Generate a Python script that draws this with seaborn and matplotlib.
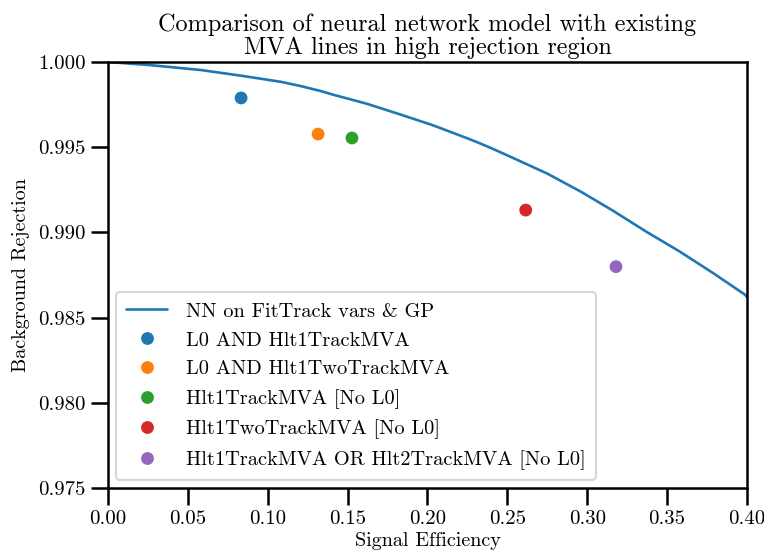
import matplotlib
matplotlib.use("Agg")
import matplotlib.pyplot as plt
import seaborn as sns
import pandas as pd

# ROC curve of the neural network (signal efficiency vs background rejection)
nn_eff = [0.000, 0.026, 0.058, 0.083, 0.108, 0.120, 0.133, 0.141, 0.162,
          0.183, 0.203, 0.225, 0.233, 0.241, 0.254, 0.275, 0.296, 0.316,
          0.337, 0.358, 0.379, 0.399, 0.400]
nn_rej = [1.00000, 0.99982, 0.99953, 0.99920, 0.99884, 0.99860, 0.99830,
          0.99808, 0.99755, 0.99692, 0.99630, 0.99552, 0.99522, 0.99490,
          0.99435, 0.99345, 0.99239, 0.99128, 0.99004, 0.98887, 0.98760,
          0.98633, 0.98620]

# Working points of the existing trigger lines
mva_names = ["L0 AND Hlt1TrackMVA",
             "L0 AND Hlt1TwoTrackMVA",
             "Hlt1TrackMVA [No L0]",
             "Hlt1TwoTrackMVA [No L0]",
             "Hlt1TrackMVA OR Hlt2TrackMVA [No L0]"]
mva_eff = [0.0833, 0.1315, 0.1527, 0.2615, 0.3180]
mva_rej = [0.99789, 0.99577, 0.99554, 0.99131, 0.98799]

nn_label = "NN on FitTrack vars & GP"
title = "Comparison of neural network model with existing\nMVA lines in high rejection region"

sns.set_theme(style="ticks", context="talk")
plt.rcParams["font.family"] = "serif"
plt.rcParams["font.serif"] = ["cmr10", "DejaVu Serif"]
plt.rcParams["mathtext.fontset"] = "cm"
plt.rcParams["axes.formatter.use_mathtext"] = True
plt.rcParams["text.color"] = "black"
plt.rcParams["axes.labelcolor"] = "black"
plt.rcParams["xtick.color"] = "black"
plt.rcParams["ytick.color"] = "black"
plt.rcParams["axes.edgecolor"] = "black"

palette = sns.color_palette("tab10")

fig = plt.figure(figsize=(7.64, 5.57), dpi=100)
ax = fig.add_axes([0.1414, 0.1239, 0.8363, 0.7648])

curve = pd.DataFrame({"eff": nn_eff, "rej": nn_rej})
sns.lineplot(data=curve, x="eff", y="rej", ax=ax, color=palette[0],
             linewidth=1.9, label=nn_label, sort=False)

points = pd.DataFrame({"eff": mva_eff, "rej": mva_rej, "line": mva_names})
sns.scatterplot(data=points, x="eff", y="rej", hue="line",
                palette=palette[:5], ax=ax,
                s=85, edgecolor="none", zorder=3)

ax.set_xlim(0.0, 0.4)
ax.set_ylim(0.975, 1.0)
ax.set_xticks([0.00, 0.05, 0.10, 0.15, 0.20, 0.25, 0.30, 0.35, 0.40])
ax.set_yticks([0.975, 0.980, 0.985, 0.990, 0.995, 1.000])
ax.xaxis.set_major_formatter(matplotlib.ticker.FormatStrFormatter("%.2f"))
ax.yaxis.set_major_formatter(matplotlib.ticker.FormatStrFormatter("%.3f"))
ax.tick_params(labelsize=15, length=12, width=1.8, pad=4)
for sp in ax.spines.values():
    sp.set_linewidth(1.8)

ax.set_xlabel("Signal Efficiency", fontsize=14.5, labelpad=3)
ax.set_ylabel("Background Rejection", fontsize=14.5, labelpad=6)
ax.set_title(title, fontsize=17.5, linespacing=1.0, pad=6)

leg = ax.legend(loc="lower left", fontsize=14.7, frameon=True,
                borderaxespad=0.4, handletextpad=0.9, labelspacing=0.52,
                handlelength=2.0, borderpad=0.5)
leg.get_frame().set_edgecolor("#cccccc")

fig.savefig("out.png", dpi=100)
